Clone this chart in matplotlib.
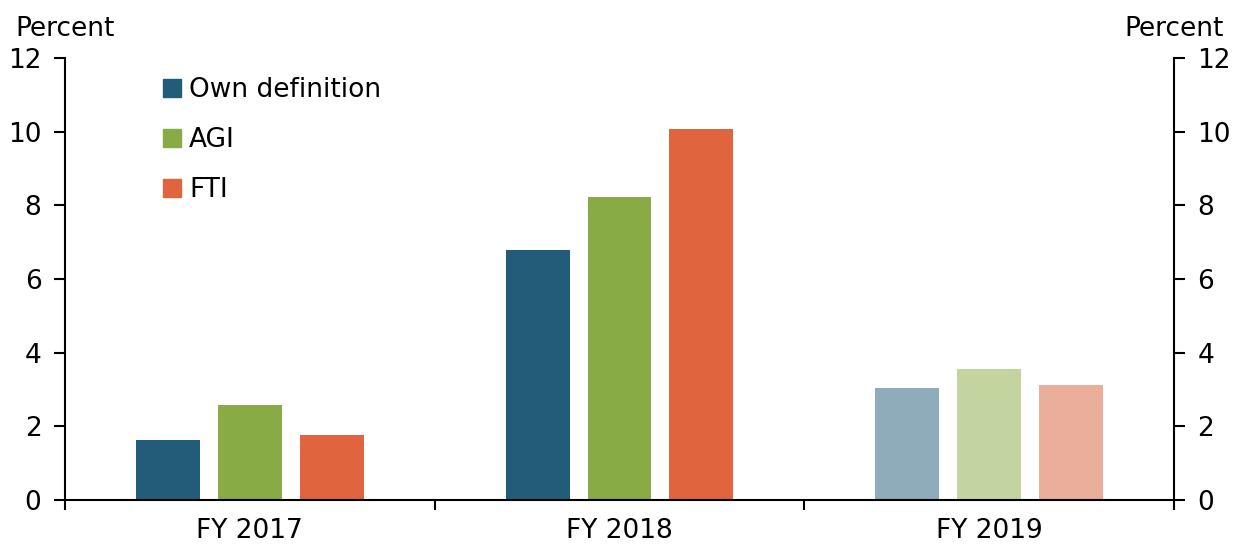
import matplotlib
matplotlib.use("Agg")
import matplotlib.pyplot as plt
import numpy as np
from matplotlib.patches import Patch

# --- data ---
years = ["FY 2017", "FY 2018", "FY 2019"]
series = ["Own definition", "AGI", "FTI"]
own_def = [1.62, 6.78, 3.03]
agi = [2.59, 8.22, 3.55]
fti = [1.77, 10.08, 3.12]

base_colors = ["#215d78", "#88ab45", "#e0643d"]
light_colors = ["#8eacb9", "#c3d4a0", "#ebae9a"]

plt.rcParams["font.family"] = ["DejaVu Sans"]
plt.rcParams["font.size"] = 19

fig = plt.figure(figsize=(12.41, 5.5), dpi=100)
ax = fig.add_axes([65 / 1241, 1 - 500 / 550, (1174 - 65) / 1241, (500 - 58) / 550])

x = np.arange(len(years))
width = 0.173
step = 0.2216
for i, vals in enumerate([own_def, agi, fti]):
    cols = [base_colors[i], base_colors[i], light_colors[i]]
    ax.bar(x + (i - 1) * step, vals, width, color=cols, zorder=2)

ax.set_xlim(-0.5, 2.5)
ax.set_ylim(0, 12)
ax.set_yticks(range(0, 13, 2))
ax.set_xticks(x)
ax.set_xticklabels(years)
ax.set_xticks([-0.5, 0.5, 1.5, 2.5], minor=True)
ax.tick_params(axis="x", which="major", length=0, pad=13)
ax.tick_params(axis="x", which="minor", length=7, width=1.5, direction="out")
ax.tick_params(axis="y", length=8, width=1.5, direction="out", pad=9,
               right=True, labelright=True)
for s in ["left", "right", "bottom"]:
    ax.spines[s].set_linewidth(1.5)
ax.spines["top"].set_visible(False)

fig.text(15 / 1241, 1 - 36 / 550, "Percent", ha="left", va="baseline")
fig.text(1224 / 1241, 1 - 36 / 550, "Percent", ha="right", va="baseline")

handles = [Patch(color=c, label=l) for c, l in zip(base_colors, series)]
ax.legend(handles=handles, loc="upper left", bbox_to_anchor=(0.079, 0.98),
          frameon=False, handlelength=0.68, handleheight=0.68,
          handletextpad=0.3, labelspacing=0.9, borderaxespad=0)

fig.savefig("out.png", dpi=100)
